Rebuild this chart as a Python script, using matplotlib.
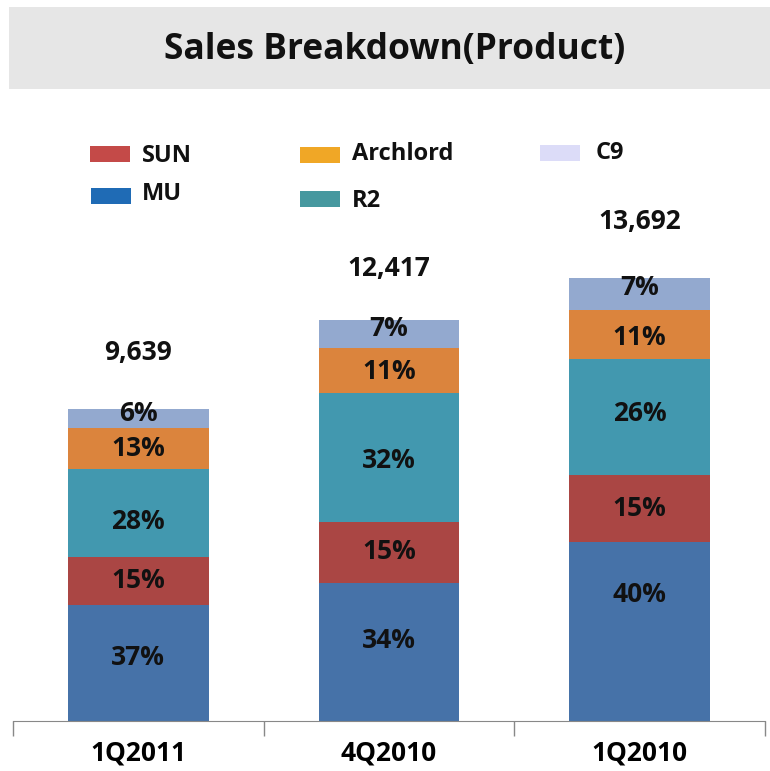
import matplotlib
matplotlib.use("Agg")
import matplotlib.pyplot as plt
from matplotlib.patches import Rectangle
import numpy as np

plt.rcParams['font.family'] = ['Open Sans', 'DejaVu Sans']

categories = ["1Q2011", "4Q2010", "1Q2010"]
totals = [9639, 12417, 13692]
total_labels = ["9,639", "12,417", "13,692"]
products = ["MU", "SUN", "R2", "Archlord", "C9"]
mu_pct = [37, 34, 40]
sun_pct = [15, 15, 15]
r2_pct = [28, 32, 26]
archlord_pct = [13, 11, 11]
c9_pct = [6, 7, 7]

bar_colors = ["#4672A8", "#AA4644", "#4298AF", "#DB843D", "#93A9CF"]
legend_colors = {"SUN": "#C44A48", "MU": "#1F6BB5", "Archlord": "#F0A726",
                 "R2": "#46989F", "C9": "#DCDCF8"}
# per-label vertical nudges in pixels (negative = up), same order as series
label_nudge_px = [[-5, -12, -37], [0, -1, 0], [8, 3, -4], [0, 1, 3], [-5, -5, -7]]
total_gap_px = [57, 51, 57]

W, H = 770, 771
fig = plt.figure(figsize=(W / 100, H / 100), dpi=100)

# title band
fig.patches.append(Rectangle((9 / W, 1 - 89 / H), (W - 9) / W, 82 / H,
                             transform=fig.transFigure, facecolor="#E6E6E6",
                             edgecolor="none", zorder=0))
fig.text(395 / W, 1 - 50 / H, "Sales Breakdown(Product)", ha="center", va="center",
         fontsize=25.5, fontweight="bold", color="#111111")

ax_left, ax_right, ax_bottom, ax_top = 13, 765, 721, 100
ax = fig.add_axes([ax_left / W, 1 - ax_bottom / H, (ax_right - ax_left) / W,
                   (ax_bottom - ax_top) / H])
px_per_unit = 0.03232
ax.set_ylim(0, (ax_bottom - ax_top) / px_per_unit)
ax.set_xlim(-0.5, 2.5)

x = np.arange(len(categories))
series = [mu_pct, sun_pct, r2_pct, archlord_pct, c9_pct]
pct_sum = np.sum(np.array(series), axis=0)
bottom = np.zeros(len(categories))
for k, (pcts, col) in enumerate(zip(series, bar_colors)):
    vals = np.array(totals) * np.array(pcts) / pct_sum
    ax.bar(x, vals, bottom=bottom, width=0.56, color=col, edgecolor="none")
    for i, (v, p) in enumerate(zip(vals, pcts)):
        ax.text(x[i], bottom[i] + v / 2 - label_nudge_px[k][i] / px_per_unit,
                f"{p}%", ha="center", va="center",
                fontsize=19, fontweight="bold", color="#111111")
    bottom += vals

# totals
for i, lab in enumerate(total_labels):
    ax.text(x[i], bottom[i] + total_gap_px[i] / px_per_unit, lab, ha="center",
            va="center", fontsize=19, fontweight="bold", color="#111111")

for s in ["top", "right", "left"]:
    ax.spines[s].set_visible(False)
ax.spines["bottom"].set_color("#888888")
ax.set_yticks([])
ax.set_xticks(x)
ax.set_xticklabels(categories, fontsize=19, fontweight="bold")
ax.tick_params(axis="x", which="major", length=0, pad=13)
ax.set_xticks([-0.5, 0.5, 1.5, 2.5], minor=True)
ax.tick_params(axis="x", which="minor", length=11, color="#888888", width=1)

# legend (manual)
legend_items = [("SUN", 90, 146, 142, 156), ("MU", 91, 188, 142, 194),
                ("Archlord", 300, 147, 352, 154), ("R2", 300, 191, 352, 201),
                ("C9", 540, 145, 596, 153)]
for name, px, py, tx, ty in legend_items:
    fig.patches.append(Rectangle((px / W, 1 - (py + 16) / H), 40 / W, 16 / H,
                                 transform=fig.transFigure,
                                 facecolor=legend_colors[name], edgecolor="none"))
    fig.text(tx / W, 1 - ty / H, name, ha="left", va="center", fontsize=17,
             fontweight="bold", color="#111111")

fig.savefig("out.png", dpi=100, facecolor="white")
